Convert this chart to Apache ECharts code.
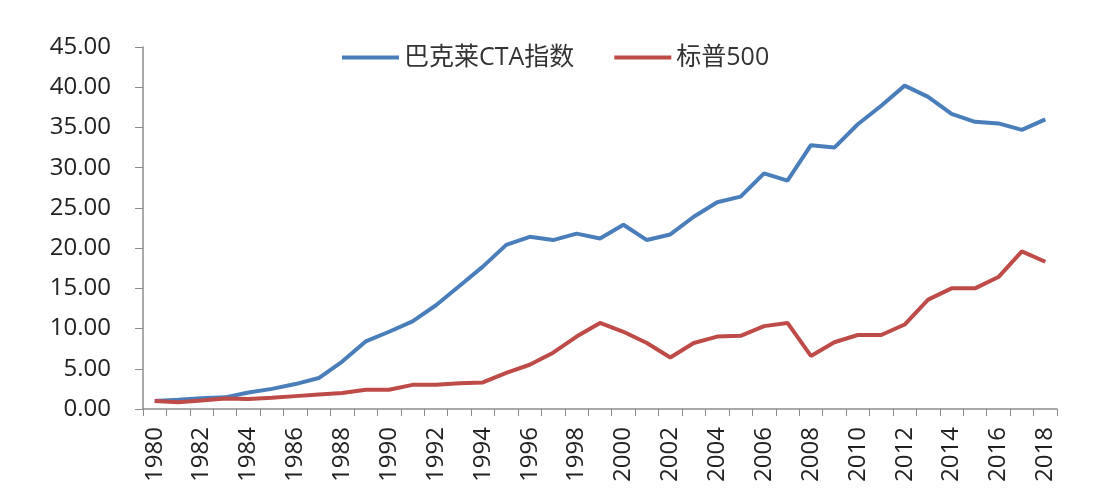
<!DOCTYPE html>
<html>
<head>
<meta charset="utf-8">
<style>
    html, body { margin: 0; padding: 0; background: #fff; }
    #chart { width: 1108px; height: 498px; }
</style>
<script src="https://cdn.jsdelivr.net/npm/echarts@6/dist/echarts.min.js"></script>
</head>
<body>
<div id="chart"></div>
<script>
// 年份
const years = [];
for (let y = 1980; y <= 2018; y++) years.push(String(y));

// 巴克莱CTA指数
const ctaIndex = [1.0, 1.15, 1.35, 1.45, 2.05, 2.5, 3.1, 3.85, 5.9, 8.4,
    9.6, 10.9, 12.9, 15.3, 17.7, 20.4, 21.4, 21.0, 21.8, 21.2,
    22.9, 21.0, 21.7, 23.9, 25.7, 26.4, 29.3, 28.4, 32.8, 32.5,
    35.4, 37.7, 40.2, 38.8, 36.7, 35.7, 35.5, 34.7, 36.0];

// 标普500
const sp500 = [1.0, 0.85, 1.05, 1.3, 1.25, 1.4, 1.6, 1.8, 2.0, 2.4,
    2.4, 3.0, 3.0, 3.2, 3.3, 4.5, 5.5, 7.0, 9.0, 10.7,
    9.6, 8.2, 6.4, 8.2, 9.0, 9.1, 10.3, 10.7, 6.6, 8.3,
    9.2, 9.2, 10.5, 13.6, 15.0, 15.0, 16.4, 19.6, 18.3];

const yTicks = { min: 0, max: 45, interval: 5 };
const font = '"Open Sans", "Noto Sans CJK SC", sans-serif';

const chart = echarts.init(document.getElementById("chart"));
const option = {
    animation: false,
    textStyle: { fontFamily: font },
    grid: { left: 143, right: 51, top: 47, bottom: 89 },
    legend: {
        top: 40,
        left: 337,
        itemWidth: 57,
        itemHeight: 4,
        itemGap: 40,
        icon: "rect",
        textStyle: { fontSize: 25, color: "#333", fontFamily: font },
        data: ["巴克莱CTA指数", "标普500"],
    },
    xAxis: {
        type: "category",
        data: years,
        boundaryGap: true,
        axisLine: { lineStyle: { color: "#8c8c8c", width: 1.5 } },
        axisTick: { show: true, interval: 0, length: 7, lineStyle: { color: "#8c8c8c" } },
        axisLabel: {
            interval: 1,
            rotate: 90,
            fontSize: 24,
            color: "#222",
            margin: 18,
        },
    },
    yAxis: {
        type: "value",
        min: yTicks.min,
        max: yTicks.max,
        interval: yTicks.interval,
        splitLine: { show: false },
        axisLine: { show: true, lineStyle: { color: "#8c8c8c", width: 1.5 } },
        axisTick: { show: true, length: 8, lineStyle: { color: "#8c8c8c" } },
        axisLabel: {
            fontSize: 24,
            color: "#222",
            margin: 32,
            formatter: (v) => v.toFixed(2),
        },
    },
    series: [
        {
            name: "巴克莱CTA指数",
            type: "line",
            data: ctaIndex,
            symbol: "none",
            color: "#4a7ebb",
            lineStyle: { width: 4, color: "#4a7ebb" },
        },
        {
            name: "标普500",
            type: "line",
            data: sp500,
            symbol: "none",
            color: "#be4b48",
            lineStyle: { width: 4, color: "#be4b48" },
        },
    ],
};
chart.setOption(option);
</script>
</body>
</html>
